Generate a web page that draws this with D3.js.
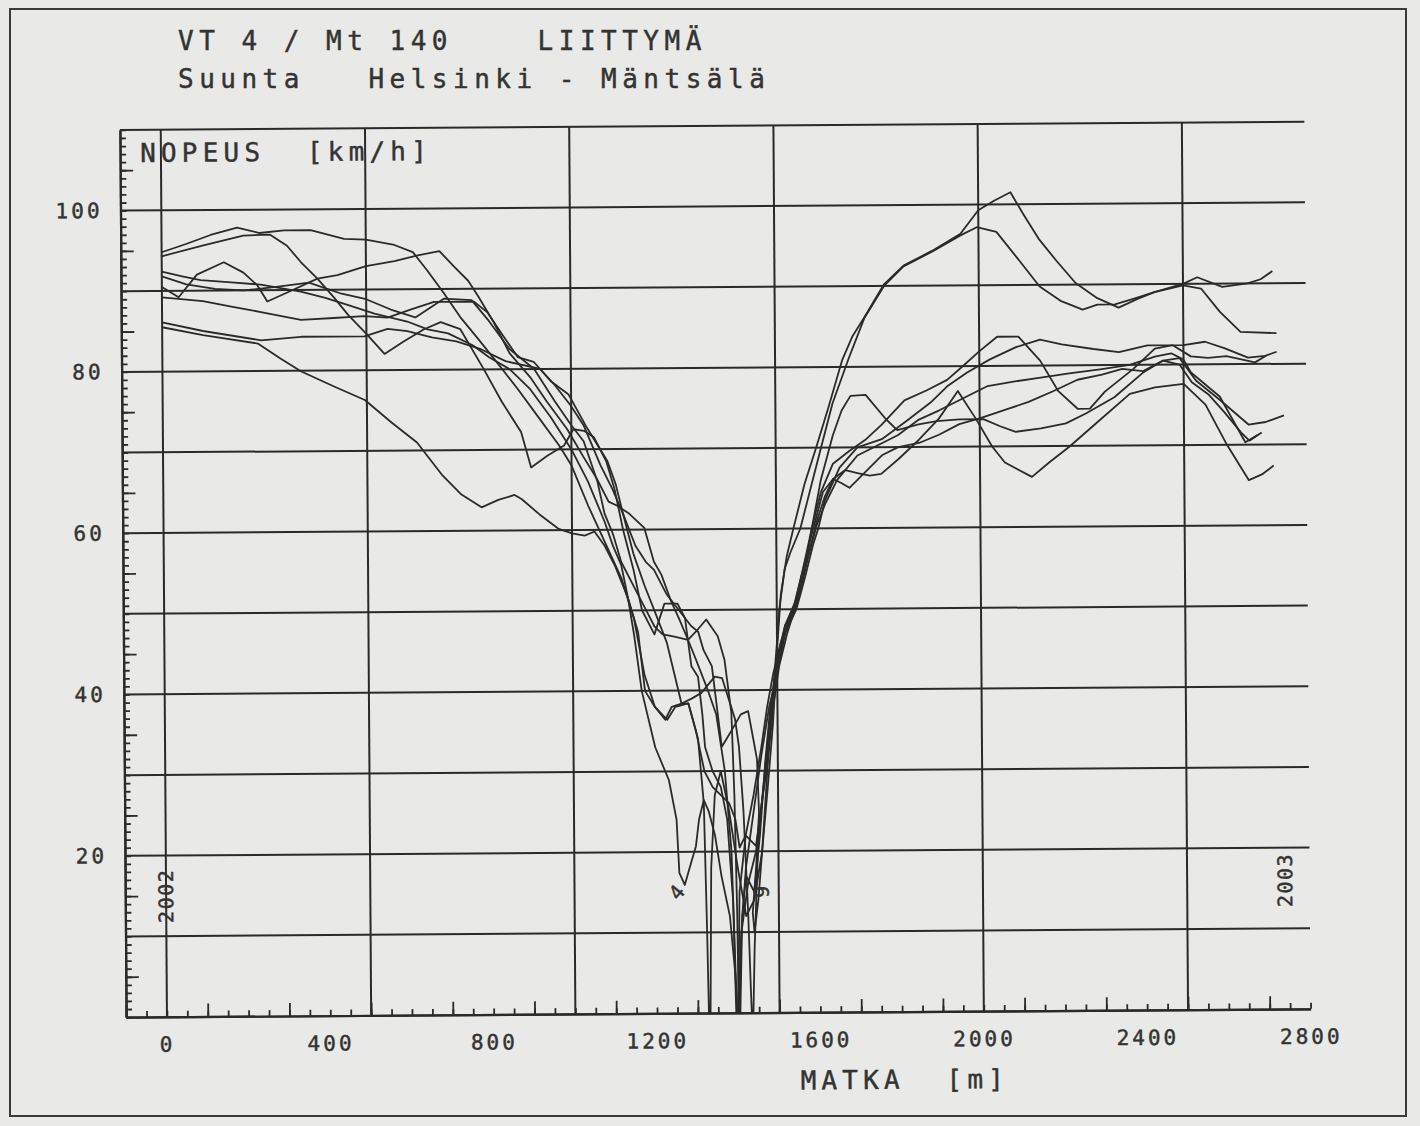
<!DOCTYPE html>
<html>
<head>
<meta charset="utf-8">
<script src="https://cdn.jsdelivr.net/npm/d3@7"></script>
<style>
  body { margin: 0; background: #e9e9e7; }
  text { font-family: "DejaVu Sans Mono", monospace; fill: #333; stroke: #333; stroke-width: 0.45; white-space: pre; }
</style>
</head>
<body>
<svg id="chart"></svg>
<script>
// mittausajot: [matka m, nopeus km/h]
const run1 = [[0,94.8],[60,95.8],[120,96.9],[185,97.8],[240,97.1],[300,97.4],[365,97.4],[447,96.3],[500,96.2],[570,95.5],[615,94.6],[650,92.3],[690,89.5],[730,86.5],[770,84],[820,80.8],[870,77.5],[920,74],[970,70.5],[1000,68],[1040,63],[1080,58.5],[1120,54],[1150,49],[1175,42],[1200,38],[1230,36.4],[1250,38],[1282,38.4],[1305,34],[1318,26],[1324,10],[1327,0],[1331,0],[1335,18],[1345,27],[1360,30],[1380,25],[1400,18],[1420,12],[1440,14],[1460,20],[1475,28],[1489,36],[1500,45],[1510,51.8],[1525,56.5],[1542,60],[1570,65.5],[1599,70],[1630,75],[1664,80.8],[1690,83.8],[1719,86.1],[1768,90.2],[1816,92.5],[1886,94.3],[1956,96.4],[2000,99.3],[2040,100.5],[2079,101.5],[2110,98.8],[2149,95.6],[2190,93],[2237,90.2],[2290,88.3],[2342,87.1],[2390,88.2],[2430,89],[2500,89.8],[2544,89.4],[2590,86.5],[2640,84],[2728,83.8]];
const run2 = [[0,94.3],[100,95.6],[200,96.8],[265,96.9],[307,95.5],[340,93.5],[381,91.4],[422,89],[455,86.9],[500,84.5],[544,82],[590,83.5],[640,85],[682,85.9],[730,85],[787,80],[830,76],[877,72.2],[901,67.8],[940,69.2],[982,70.5],[1005,72.5],[1031,72.3],[1055,71.5],[1085,68.5],[1105,65],[1125,60],[1150,55],[1170,50],[1200,47],[1225,50.8],[1257,50.8],[1275,49],[1290,43],[1306,41.7],[1316,37],[1322,33],[1340,30],[1360,28],[1375,24],[1388,14],[1394,0],[1399,0],[1404,15],[1420,22],[1445,20.7],[1460,26],[1475,32],[1490,40],[1500,46],[1506,50],[1520,55],[1534,57],[1559,60],[1585,65],[1611,70],[1640,75.5],[1680,81],[1719,86],[1768,90],[1816,92.4],[1886,94.2],[1956,96.2],[1996,97.2],[2044,96.6],[2100,93],[2149,89.8],[2200,88],[2254,86.9],[2290,87.5],[2333,87.5],[2380,88.2],[2430,89],[2500,90],[2535,90.8],[2596,89.6],[2658,90],[2690,90.5],[2719,91.5]];
const run3 = [[0,90.5],[41,89.2],[86,92],[152,93.5],[200,92.2],[234,90.6],[258,88.6],[307,89.7],[381,91.4],[430,91.8],[500,92.9],[570,93.5],[627,94.2],[680,94.7],[717,92.7],[750,91],[775,89],[810,86],[850,82],[900,79],[940,76],[990,72.5],[1030,69],[1060,66.5],[1090,63.5],[1110,63],[1140,62],[1177,60.2],[1200,56],[1218,54.4],[1242,51],[1260,49],[1282,46.3],[1305,47.5],[1327,48.8],[1355,46.7],[1371,43.8],[1387,37.2],[1393,27],[1398,12],[1400,0],[1404,0],[1410,12],[1420,17],[1440,15],[1455,22],[1469,31],[1481,37.2],[1495,42],[1520,48],[1546,50],[1570,55],[1587,60],[1610,64.5],[1640,68],[1681,69.6],[1719,70.9],[1760,72.8],[1816,75.8],[1870,77],[1921,78.3],[1960,80],[2000,81.8],[2044,83.6],[2096,83.6],[2149,80.6],[2193,76.8],[2240,74.6],[2270,74.6],[2307,76.7],[2377,79.5],[2430,82],[2474,82.4],[2518,81],[2560,80.8],[2605,81],[2675,80.2],[2702,81]];
const run4 = [[0,92.4],[50,91.8],[95,91.3],[170,91],[242,90.7],[340,89.8],[400,89],[462,88],[520,87],[560,86.5],[600,86],[650,85],[700,84.5],[760,83],[800,81.5],[850,80],[900,77.5],[950,74],[1000,70],[1040,66],[1080,61],[1100,58],[1120,55.6],[1136,51.5],[1150,47],[1168,40],[1200,33],[1233,28.9],[1251,24],[1257,17.4],[1270,15.9],[1285,18.5],[1298,20.7],[1306,24],[1318,26.4],[1330,25],[1345,22],[1360,17],[1380,12],[1392,5],[1397,0],[1401,0],[1405,8],[1420,18],[1440,25],[1460,32],[1480,38],[1500,42],[1520,47],[1540,50],[1560,54],[1587,59.3],[1615,64.5],[1640,66.1],[1670,67.2],[1700,66.8],[1730,66.5],[1758,66.7],[1800,68.5],[1851,70.9],[1900,73.5],[1947,76.9],[1990,73.5],[2030,70],[2061,68],[2127,66.2],[2170,68],[2219,69.9],[2290,73],[2368,76.4],[2430,77.2],[2500,77.6],[2553,75],[2605,70],[2658,65.6],[2690,66.3],[2719,67.4]];
const run5 = [[0,89.2],[100,88.7],[170,88],[242,87.3],[340,86.3],[420,86.5],[495,86.7],[552,86.5],[610,87.5],[666,88.4],[764,88.4],[796,87.1],[830,84.5],[870,81.5],[909,80.9],[950,78.5],[994,76.8],[1039,72.6],[1088,68.5],[1108,65.6],[1125,62],[1150,57],[1177,53],[1200,50],[1230,46],[1265,38.4],[1290,39],[1314,39.7],[1347,41.7],[1365,41.5],[1380,39],[1396,36.4],[1405,33],[1415,25],[1425,12],[1430,3],[1432,0],[1436,0],[1440,8],[1450,20.7],[1460,26],[1470,31],[1485,38],[1500,43],[1520,47],[1548,50],[1570,54],[1590,58],[1603,60],[1620,63.5],[1656,67.5],[1700,70],[1760,71],[1820,73.2],[1880,75.5],[1921,77.5],[1970,79.2],[2026,80.8],[2090,82.3],[2149,83.2],[2202,82.6],[2280,82],[2342,81.6],[2412,82.4],[2500,82.4],[2553,82.8],[2600,82],[2658,80.8],[2700,81],[2728,81.5]];
const run6 = [[0,86.1],[100,85],[242,83.8],[340,84.2],[420,84.2],[495,84.2],[552,85.1],[600,84.8],[660,84],[720,83.5],[780,82.5],[840,81],[925,80],[960,78],[998,75.5],[1030,73],[1071,68],[1100,65],[1125,62],[1155,58],[1180,56],[1200,55],[1230,52],[1260,50],[1290,48],[1307,47.3],[1320,45],[1340,43],[1363,33],[1375,34],[1387,35],[1410,37],[1428,37.4],[1440,34],[1449,31.4],[1453,24.8],[1445,18],[1436,12.4],[1440,10],[1450,14],[1460,20],[1470,27],[1478,33],[1490,40],[1505,45],[1520,48],[1546,51],[1565,55],[1587,60],[1610,66],[1640,71.5],[1662,74.6],[1684,76.4],[1721,76.5],[1770,73.5],[1798,72.1],[1850,72.8],[1895,73.2],[1950,73.4],[2009,73.4],[2050,72.5],[2088,71.8],[2150,72.2],[2211,72.8],[2260,74],[2330,76],[2400,79],[2450,80.5],[2490,80.8],[2530,78],[2590,75.5],[2658,72.5],[2700,72.8],[2745,73.6]];
const run7 = [[0,85.5],[100,84.5],[234,83.4],[290,81.5],[340,79.9],[420,78],[495,76.3],[560,73.5],[622,71],[682,67],[730,64.5],[779,62.9],[820,63.8],[860,64.4],[877,63.9],[920,62],[966,60.2],[1000,59.6],[1031,59.3],[1055,59.8],[1080,58],[1104,55.6],[1136,51.5],[1160,47.3],[1176,40],[1200,38],[1225,36.4],[1241,38],[1265,38.4],[1282,38.4],[1300,35],[1320,30],[1340,28],[1360,27],[1380,26],[1395,24],[1405,20.5],[1420,22],[1440,27],[1460,33],[1475,38],[1490,42],[1510,46],[1540,50],[1560,53],[1580,57],[1600,61],[1620,64],[1640,66.1],[1660,65.6],[1680,65],[1720,67],[1760,69],[1800,70],[1851,70.5],[1900,71.5],[1950,72.8],[2000,73.5],[2060,74.5],[2120,75.5],[2180,76.8],[2240,78.2],[2300,78.8],[2350,79.5],[2400,79.2],[2450,80.5],[2490,80],[2520,77.8],[2560,76.3],[2600,74],[2640,71.5],[2660,70.5],[2690,71.5]];
const run8 = [[0,91.8],[60,90.8],[130,90.2],[200,90],[280,90.4],[360,90.9],[440,89.5],[500,88.8],[560,87.5],[620,86.5],[690,88.8],[758,88.6],[800,86],[850,82.5],[910,80],[960,76],[1000,73],[1030,71],[1063,66],[1080,62],[1100,59.5],[1120,56],[1150,53],[1180,50],[1200,48],[1220,47],[1249,46.7],[1282,46.3],[1300,44],[1330,40],[1350,37],[1370,30],[1385,20],[1393,5],[1396,0],[1402,0],[1408,10],[1425,16],[1445,20],[1460,26],[1475,31],[1490,38],[1505,43],[1525,47],[1550,51],[1575,56],[1600,60.5],[1620,63],[1650,66],[1700,69],[1760,70.5],[1800,71.5],[1851,73.4],[1900,74.5],[1960,76],[2020,77.5],[2080,78],[2150,78.5],[2220,79],[2300,79.5],[2368,80],[2430,81],[2470,81.4],[2500,80.6],[2518,79],[2588,76],[2650,70.3],[2680,71.2]];
const runs = [run1, run2, run3, run4, run5, run6, run7, run8];

// asteikot ja merkinnät
const xLabels = [0, 400, 800, 1200, 1600, 2000, 2400, 2800];
const yLabels = [20, 40, 60, 80, 100];
const xGrid = [0, 500, 1000, 1500, 2000, 2500];
const yGrid = [10, 20, 30, 40, 50, 60, 70, 80, 90, 100, 110];
const runNotes = [{label: "4", m: 1250, v: 15, rot: -50}, {label: "9", m: 1458, v: 15, rot: -90}];
const yearNotes = [{label: "2002", m: 0, v: 15}, {label: "2003", m: 2740, v: 16}];

const svg_w = 1420, svg_h = 1126;
const ink = "#2a2a2a";

const svg = d3.select("#chart")
  .attr("width", svg_w)
  .attr("height", svg_h);

// paperin reunus
svg.append("rect")
  .attr("x", 10).attr("y", 9)
  .attr("width", 1396).attr("height", 1107)
  .attr("fill", "none").attr("stroke", "#3a3a3a").attr("stroke-width", 2);

// otsikko
svg.append("text").attr("x", 178).attr("y", 50)
  .attr("font-size", 26).attr("letter-spacing", 5.5)
  .text("VT 4 / Mt 140    LIITTYMÄ");
svg.append("text").attr("x", 178).attr("y", 88)
  .attr("font-size", 26).attr("letter-spacing", 5.5)
  .text("Suunta   Helsinki - Mäntsälä");

const x = d3.scaleLinear().domain([-100, 2800]).range([123, 1307.5]);
const y = d3.scaleLinear().domain([0, 110]).range([1013, 125.8]);

// skannattu kuva on hieman vinossa
const plot = svg.append("g").attr("transform", "rotate(-0.4,715,570)");

// ruudukko
plot.append("g").selectAll("line").data(xGrid).enter().append("line")
  .attr("x1", d => x(d)).attr("x2", d => x(d))
  .attr("y1", y(0)).attr("y2", y(110))
  .attr("stroke", ink).attr("stroke-width", 2);
plot.append("g").selectAll("line").data(yGrid).enter().append("line")
  .attr("x1", x(-100)).attr("x2", x(2800))
  .attr("y1", d => y(d)).attr("y2", d => y(d))
  .attr("stroke", ink).attr("stroke-width", 2);

// akselit: pienet ja isot jakoviivat sisäänpäin
function styleAxis(g) {
  g.select(".domain").attr("stroke", ink).attr("stroke-width", 2.2);
  g.selectAll(".tick line").attr("stroke", ink).attr("stroke-width", 1.8);
}
plot.append("g")
  .attr("transform", `translate(0,${y(0)})`)
  .call(d3.axisBottom(x).tickValues(d3.range(-100, 2801, 50)).tickSizeInner(-6).tickSizeOuter(0).tickFormat(""))
  .call(styleAxis);
plot.append("g")
  .attr("transform", `translate(0,${y(0)})`)
  .call(d3.axisBottom(x).tickValues(d3.range(-100, 2801, 200)).tickSizeInner(-13).tickSizeOuter(0).tickFormat(""))
  .call(styleAxis);
plot.append("g")
  .attr("transform", `translate(${x(-100)},0)`)
  .call(d3.axisLeft(y).tickValues(d3.range(0, 111, 1)).tickSizeInner(-6).tickSizeOuter(0).tickFormat(""))
  .call(styleAxis);
plot.append("g")
  .attr("transform", `translate(${x(-100)},0)`)
  .call(d3.axisLeft(y).tickValues(d3.range(5, 111, 10)).tickSizeInner(-13).tickSizeOuter(0).tickFormat(""))
  .call(styleAxis);

// jakoviivojen numerot
plot.append("g")
  .attr("transform", `translate(0,${y(0)})`)
  .call(d3.axisBottom(x).tickValues(xLabels).tickSize(0).tickPadding(20).tickFormat(d3.format("d")))
  .call(g => g.select(".domain").remove())
  .call(g => g.selectAll("text").attr("font-family", null).attr("font-size", 21).attr("letter-spacing", 3).attr("fill", "#333"));
plot.append("g")
  .attr("transform", `translate(${x(-100)},0)`)
  .call(d3.axisLeft(y).tickValues(yLabels).tickSize(0).tickPadding(18).tickFormat(d3.format("d")))
  .call(g => g.select(".domain").remove())
  .call(g => g.selectAll("text").attr("font-family", null).attr("font-size", 21).attr("letter-spacing", 3).attr("fill", "#333"));

// akselien nimet
plot.append("text").attr("x", 143).attr("y", 158)
  .attr("font-size", 26).attr("letter-spacing", 5.2)
  .text("NOPEUS  [km/h]");
plot.append("text").attr("x", 797).attr("y", 1090)
  .attr("font-size", 26).attr("letter-spacing", 5.2)
  .text("MATKA  [m]");

// nopeuskäyrät
const line = d3.line()
  .x(d => x(d[0]))
  .y(d => y(d[1]));
plot.append("g").selectAll("path").data(runs).enter().append("path")
  .attr("d", line)
  .attr("fill", "none")
  .attr("stroke", ink)
  .attr("stroke-width", 1.8)
  .attr("stroke-linejoin", "round");

// vuosi- ja ajomerkinnät
plot.append("g").selectAll("text").data(yearNotes).enter().append("text")
  .attr("transform", d => `translate(${x(d.m)},${y(d.v)}) rotate(-90)`)
  .attr("text-anchor", "middle").attr("dy", "0.35em")
  .attr("font-size", 20).attr("letter-spacing", 1.5)
  .text(d => d.label);
plot.append("g").selectAll("text").data(runNotes).enter().append("text")
  .attr("transform", d => `translate(${x(d.m)},${y(d.v)}) rotate(${d.rot})`)
  .attr("text-anchor", "middle").attr("dy", "0.35em")
  .attr("font-size", 20)
  .text(d => d.label);
</script>
</body>
</html>
